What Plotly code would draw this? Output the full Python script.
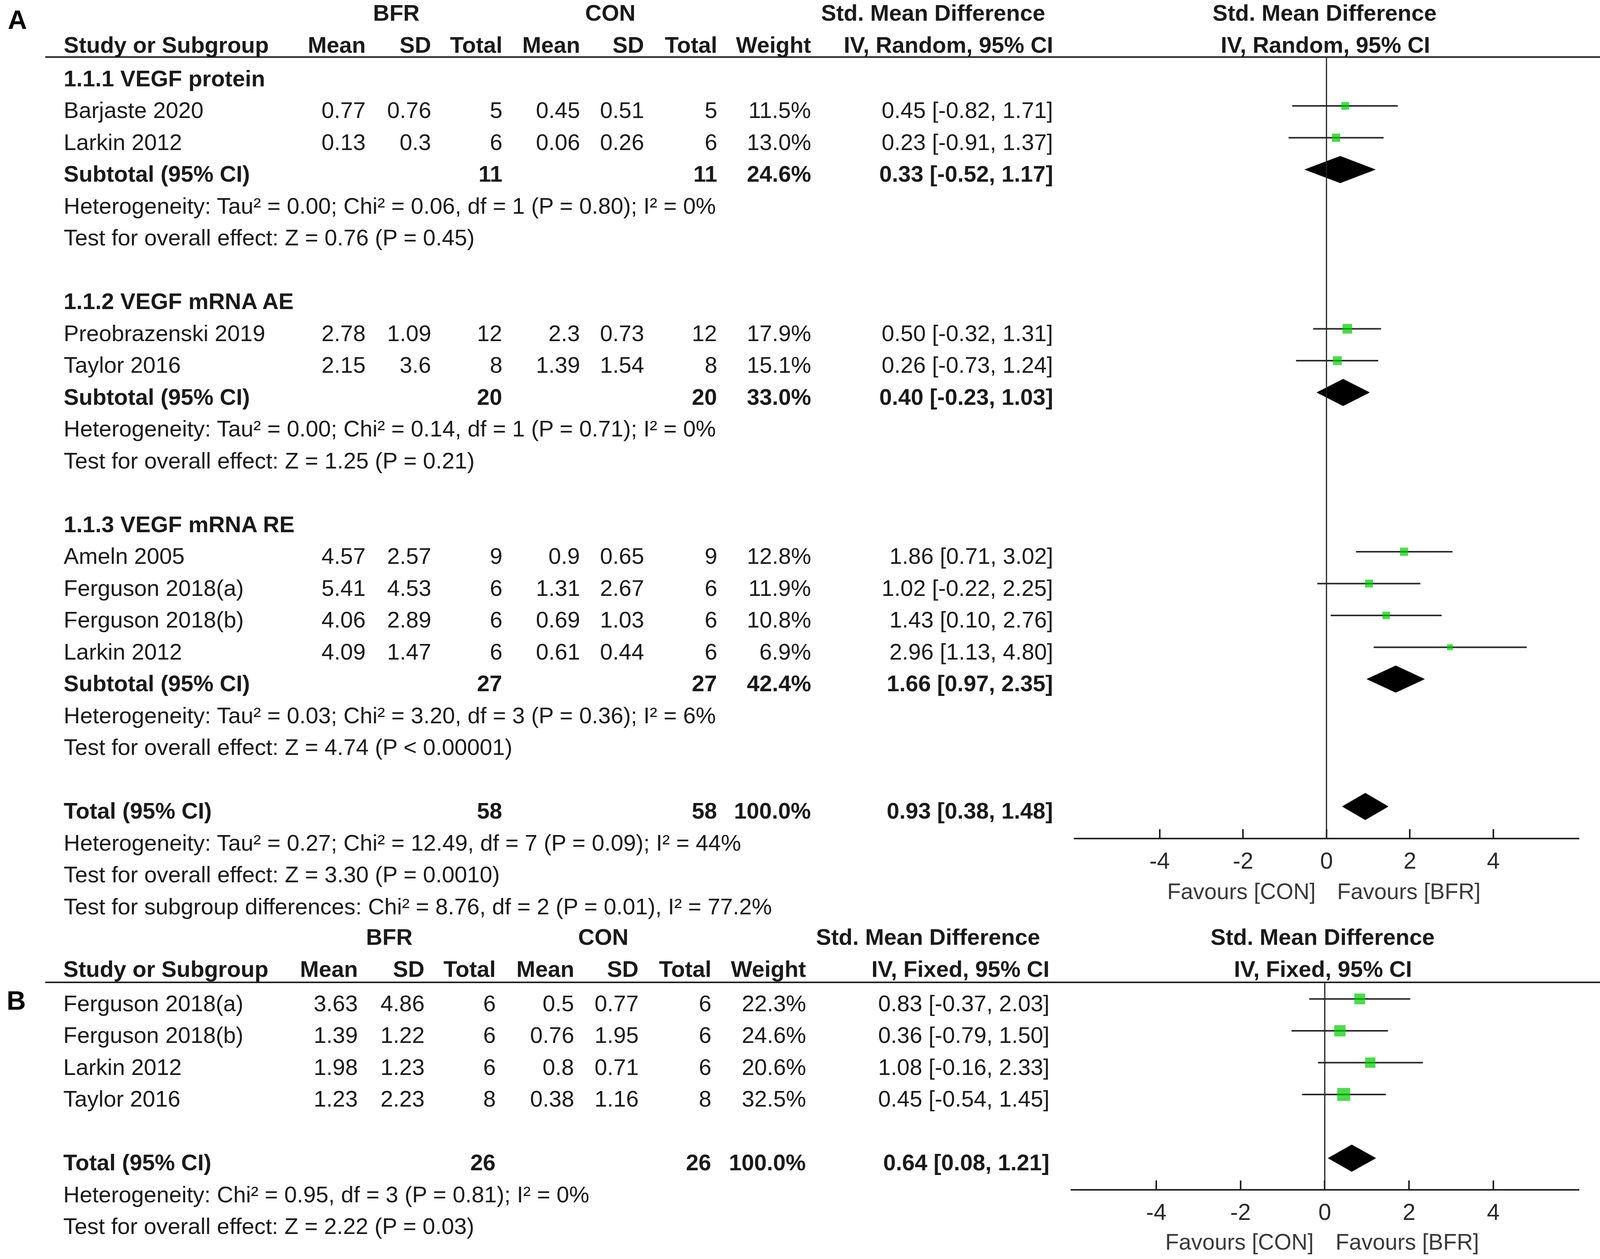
import math
import plotly.graph_objects as go

REF_W = 4317                       # reference width that column fractions are based on
W, H = 4096, 3222                  # visible page area
SX = W / REF_W
FONT = "Arial, Liberation Sans, sans-serif"
FS = round(61 * SX)
TXT = "#1a1a1a"

# ---------------- DATA: panel A ----------------
groups_A = ["1.1.1 VEGF protein", "1.1.2 VEGF mRNA AE", "1.1.3 VEGF mRNA RE"]
study_group_A = [0, 0, 1, 1, 2, 2, 2, 2]
names_A = ["Barjaste 2020", "Larkin 2012", "Preobrazenski 2019", "Taylor 2016",
           "Ameln 2005", "Ferguson 2018(a)", "Ferguson 2018(b)", "Larkin 2012"]
bfr_mean_A = [0.77, 0.13, 2.78, 2.15, 4.57, 5.41, 4.06, 4.09]
bfr_sd_A = [0.76, 0.3, 1.09, 3.6, 2.57, 4.53, 2.89, 1.47]
bfr_n_A = [5, 6, 12, 8, 9, 6, 6, 6]
con_mean_A = [0.45, 0.06, 2.3, 1.39, 0.9, 1.31, 0.69, 0.61]
con_sd_A = [0.51, 0.26, 0.73, 1.54, 0.65, 2.67, 1.03, 0.44]
con_n_A = [5, 6, 12, 8, 9, 6, 6, 6]
weight_A = [11.5, 13.0, 17.9, 15.1, 12.8, 11.9, 10.8, 6.9]
smd_A = [0.45, 0.23, 0.50, 0.26, 1.86, 1.02, 1.43, 2.96]
lo_A = [-0.82, -0.91, -0.32, -0.73, 0.71, -0.22, 0.10, 1.13]
hi_A = [1.71, 1.37, 1.31, 1.24, 3.02, 2.25, 2.76, 4.80]

sub_n_bfr_A = [11, 20, 27]
sub_n_con_A = [11, 20, 27]
sub_weight_A = [24.6, 33.0, 42.4]
sub_smd_A = [0.33, 0.40, 1.66]
sub_lo_A = [-0.52, -0.23, 0.97]
sub_hi_A = [1.17, 1.03, 2.35]
sub_het_A = ["Heterogeneity: Tau² = 0.00; Chi² = 0.06, df = 1 (P = 0.80); I² = 0%",
             "Heterogeneity: Tau² = 0.00; Chi² = 0.14, df = 1 (P = 0.71); I² = 0%",
             "Heterogeneity: Tau² = 0.03; Chi² = 3.20, df = 3 (P = 0.36); I² = 6%"]
sub_test_A = ["Test for overall effect: Z = 0.76 (P = 0.45)",
              "Test for overall effect: Z = 1.25 (P = 0.21)",
              "Test for overall effect: Z = 4.74 (P < 0.00001)"]

tot_n_bfr_A, tot_n_con_A, tot_w_A = 58, 58, 100.0
tot_smd_A, tot_lo_A, tot_hi_A = 0.93, 0.38, 1.48
tot_het_A = "Heterogeneity: Tau² = 0.27; Chi² = 12.49, df = 7 (P = 0.09); I² = 44%"
tot_test_A = "Test for overall effect: Z = 3.30 (P = 0.0010)"
subgroup_diff_A = "Test for subgroup differences: Chi² = 8.76, df = 2 (P = 0.01), I² = 77.2%"

# ---------------- DATA: panel B ----------------
names_B = ["Ferguson 2018(a)", "Ferguson 2018(b)", "Larkin 2012", "Taylor 2016"]
bfr_mean_B = [3.63, 1.39, 1.98, 1.23]
bfr_sd_B = [4.86, 1.22, 1.23, 2.23]
bfr_n_B = [6, 6, 6, 8]
con_mean_B = [0.5, 0.76, 0.8, 0.38]
con_sd_B = [0.77, 1.95, 0.71, 1.16]
con_n_B = [6, 6, 6, 8]
weight_B = [22.3, 24.6, 20.6, 32.5]
smd_B = [0.83, 0.36, 1.08, 0.45]
lo_B = [-0.37, -0.79, -0.16, -0.54]
hi_B = [2.03, 1.50, 2.33, 1.45]
tot_n_bfr_B, tot_n_con_B, tot_w_B = 26, 26, 100.0
tot_smd_B, tot_lo_B, tot_hi_B = 0.64, 0.08, 1.21
tot_het_B = "Heterogeneity: Chi² = 0.95, df = 3 (P = 0.81); I² = 0%"
tot_test_B = "Test for overall effect: Z = 2.22 (P = 0.03)"

tick_vals = [-4, -2, 0, 2, 4]
tick_text = ["-4", "-2", "0", "2", "4"]

# ---------------- LAYOUT CONSTANTS ----------------
ROW0, PITCH = 200.0, 81.5          # pixel y of text row 0, and row pitch


def row_of(ypx):
    return (ypx - ROW0) / PITCH


MARK_OFF = -0.13
DIAM_H = 0.42

colsA = dict(study=171, bm=988, bs=1165, bn=1356, cm=1566, cs=1739, cn=1936, w=2189, ci=2842)
colsB = dict(study=170, bm=967, bs=1147, bn=1339, cm=1550, cs=1724, cn=1920, w=2175, ci=2833)

fig = go.Figure()


def txt(s, xpx, k, anchor="left", bold=False, size=FS, color=TXT, xref="paper"):
    fig.add_annotation(
        x=xpx / REF_W if xref == "paper" else xpx, xref=xref, y=k, yref="y",
        text=f"<b>{s}</b>" if bold else s, showarrow=False,
        xanchor=anchor, yanchor="middle", borderpad=0,
        font=dict(size=size, family=FONT, color=color))


def fmt_ci(e, l, h):
    return f"{e:.2f} [{l:.2f}, {h:.2f}]"


# ----- Panel A rows -----
k = 0
study_rows_A = []
sub_rows_A = []
for g, gname in enumerate(groups_A):
    txt(gname, colsA["study"], k, bold=True)
    k += 1
    for i, sg in enumerate(study_group_A):
        if sg == g:
            study_rows_A.append(k)
            c = colsA
            txt(names_A[i], c["study"], k)
            txt(str(bfr_mean_A[i]), c["bm"], k, "right")
            txt(str(bfr_sd_A[i]), c["bs"], k, "right")
            txt(str(bfr_n_A[i]), c["bn"], k, "right")
            txt(str(con_mean_A[i]), c["cm"], k, "right")
            txt(str(con_sd_A[i]), c["cs"], k, "right")
            txt(str(con_n_A[i]), c["cn"], k, "right")
            txt(f"{weight_A[i]:.1f}%", c["w"], k, "right")
            txt(fmt_ci(smd_A[i], lo_A[i], hi_A[i]), c["ci"], k, "right")
            k += 1
    sub_rows_A.append(k)
    c = colsA
    txt("Subtotal (95% CI)", c["study"], k, bold=True)
    txt(str(sub_n_bfr_A[g]), c["bn"], k, "right", bold=True)
    txt(str(sub_n_con_A[g]), c["cn"], k, "right", bold=True)
    txt(f"{sub_weight_A[g]:.1f}%", c["w"], k, "right", bold=True)
    txt(fmt_ci(sub_smd_A[g], sub_lo_A[g], sub_hi_A[g]), c["ci"], k, "right", bold=True)
    k += 1
    txt(sub_het_A[g], c["study"], k)
    k += 1
    txt(sub_test_A[g], c["study"], k)
    k += 2
tot_row_A = k
c = colsA
txt("Total (95% CI)", c["study"], k, bold=True)
txt(str(tot_n_bfr_A), c["bn"], k, "right", bold=True)
txt(str(tot_n_con_A), c["cn"], k, "right", bold=True)
txt(f"{tot_w_A:.1f}%", c["w"], k, "right", bold=True)
txt(fmt_ci(tot_smd_A, tot_lo_A, tot_hi_A), c["ci"], k, "right", bold=True)
txt(tot_het_A, c["study"], k + 1)
txt(tot_test_A, c["study"], k + 2)
txt(subgroup_diff_A, c["study"], k + 3)

# headers A
hA1, hA2 = row_of(32), row_of(114)
txt("BFR", 1069, hA1, "center", bold=True)
txt("CON", 1647, hA1, "center", bold=True)
txt("Std. Mean Difference", 2518, hA1, "center", bold=True)
txt("Std. Mean Difference", 3574, hA1, "center", bold=True)
txt("Study or Subgroup", colsA["study"], hA2, bold=True)
for key, lab in [("bm", "Mean"), ("bs", "SD"), ("bn", "Total"), ("cm", "Mean"),
                 ("cs", "SD"), ("cn", "Total"), ("w", "Weight"), ("ci", "IV, Random, 95% CI")]:
    txt(lab, colsA[key], hA2, "right", bold=True)
txt("IV, Random, 95% CI", 3576, hA2, "center", bold=True)
txt("A", 47, row_of(50), "center", bold=True, size=68, color="#000")

# ----- Panel B rows -----
B0 = row_of(2567)
study_rows_B = []
for i in range(len(names_B)):
    kk = B0 + i
    study_rows_B.append(kk)
    c = colsB
    txt(names_B[i], c["study"], kk)
    txt(str(bfr_mean_B[i]), c["bm"], kk, "right")
    txt(str(bfr_sd_B[i]), c["bs"], kk, "right")
    txt(str(bfr_n_B[i]), c["bn"], kk, "right")
    txt(str(con_mean_B[i]), c["cm"], kk, "right")
    txt(str(con_sd_B[i]), c["cs"], kk, "right")
    txt(str(con_n_B[i]), c["cn"], kk, "right")
    txt(f"{weight_B[i]:.1f}%", c["w"], kk, "right")
    txt(fmt_ci(smd_B[i], lo_B[i], hi_B[i]), c["ci"], kk, "right")
tot_row_B = B0 + len(names_B) + 1
c = colsB
txt("Total (95% CI)", c["study"], tot_row_B, bold=True)
txt(str(tot_n_bfr_B), c["bn"], tot_row_B, "right", bold=True)
txt(str(tot_n_con_B), c["cn"], tot_row_B, "right", bold=True)
txt(f"{tot_w_B:.1f}%", c["w"], tot_row_B, "right", bold=True)
txt(fmt_ci(tot_smd_B, tot_lo_B, tot_hi_B), c["ci"], tot_row_B, "right", bold=True)
txt(tot_het_B, c["study"], tot_row_B + 1)
txt(tot_test_B, c["study"], tot_row_B + 2)

hB1, hB2 = row_of(2397), row_of(2479)
txt("BFR", 1050, hB1, "center", bold=True)
txt("CON", 1628, hB1, "center", bold=True)
txt("Std. Mean Difference", 2504, hB1, "center", bold=True)
txt("Std. Mean Difference", 3569, hB1, "center", bold=True)
txt("Study or Subgroup", colsB["study"], hB2, bold=True)
for key, lab in [("bm", "Mean"), ("bs", "SD"), ("bn", "Total"), ("cm", "Mean"),
                 ("cs", "SD"), ("cn", "Total"), ("w", "Weight"), ("ci", "IV, Fixed, 95% CI")]:
    txt(lab, colsB[key], hB2, "right", bold=True)
txt("IV, Fixed, 95% CI", 3570, hB2, "center", bold=True)
txt("B", 44, row_of(2560), "center", bold=True, size=68, color="#000")

# ----- header rules -----
for ypx, x0 in [(146, 122), (2514, 122)]:
    fig.add_shape(type="line", xref="paper", yref="y", x0=x0 / REF_W, x1=1,
                  y0=row_of(ypx), y1=row_of(ypx), line=dict(color="#222", width=4))

# ----- forest plots -----
axA_y, axB_y = 2146, 3045


def forest(xax, study_rows, est, lo, hi, weights, diamonds, top_px, axis_px):
    ys = []
    xs = []
    for r, l, h in zip(study_rows, lo, hi):
        xs += [l, h, None]
        ys += [r + MARK_OFF, r + MARK_OFF, None]
    fig.add_trace(go.Scatter(x=xs, y=ys, mode="lines", xaxis=xax, yaxis="y",
                             line=dict(color="#2a2a2a", width=4), hoverinfo="skip"))
    fig.add_trace(go.Scatter(
        x=est, y=[r + MARK_OFF for r in study_rows], mode="markers", xaxis=xax, yaxis="y",
        marker=dict(symbol="square", color="#00CC00",
                    size=[6.15 * SX * math.sqrt(w) for w in weights], line=dict(width=0))))
    for (r, e, l, h) in diamonds:
        yc = r + MARK_OFF
        fig.add_trace(go.Scatter(x=[l, e, h, e, l], y=[yc, yc - DIAM_H, yc, yc + DIAM_H, yc],
                                 mode="lines", fill="toself", fillcolor="#000",
                                 line=dict(color="#000", width=1), xaxis=xax, yaxis="y",
                                 hoverinfo="skip"))
    fig.add_shape(type="line", xref=xax, yref="y", x0=0, x1=0,
                  y0=row_of(top_px), y1=row_of(axis_px), line=dict(color="#222", width=3))


diam_A = [(r, e, l, h) for r, e, l, h in zip(sub_rows_A, sub_smd_A, sub_lo_A, sub_hi_A)]
diam_A.append((tot_row_A, tot_smd_A, tot_lo_A, tot_hi_A))
forest("x", study_rows_A, smd_A, lo_A, hi_A, weight_A, diam_A, 146, axA_y)
forest("x2", study_rows_B, smd_B, lo_B, hi_B, weight_B,
       [(tot_row_B, tot_smd_B, tot_lo_B, tot_hi_B)], 2514, axB_y)

# Favours labels
for xax, ypx in [("x", 2281), ("x2", 3178)]:
    txt("Favours [CON]", -0.25, row_of(ypx), "right", size=round(60 * SX), color="#3a3a3a", xref=xax)
    txt("Favours [BFR]", 0.25, row_of(ypx), "left", size=round(60 * SX), color="#3a3a3a", xref=xax)

axis_common = dict(showline=True, linecolor="#222", linewidth=4, zeroline=False, showgrid=False,
                   ticks="inside", ticklen=22, tickwidth=4, tickcolor="#222",
                   tickvals=tick_vals, ticktext=tick_text, side="bottom",
                   tickfont=dict(size=round(62 * SX), family=FONT, color="#2a2a2a"),
                   ticklabelstandoff=4, anchor="free", fixedrange=True)

fig.update_layout(
    width=W, height=H, margin=dict(l=0, r=0, t=0, b=0),
    paper_bgcolor="white", plot_bgcolor="rgba(0,0,0,0)", showlegend=False,
    xaxis=dict(domain=[2897 / REF_W, 4261 / REF_W], range=[-6.06, 6.06],
               position=1 - axA_y / H, **axis_common),
    xaxis2=dict(domain=[2889 / REF_W, 4261 / REF_W], range=[-6.03, 6.04],
                position=1 - axB_y / H, **axis_common),
    yaxis=dict(domain=[0, 1], range=[row_of(H), row_of(0)], visible=False, fixedrange=True),
)

fig.write_html("out.html", config={"displayModeBar": False},
               post_script="document.body.style.margin='0px';")
